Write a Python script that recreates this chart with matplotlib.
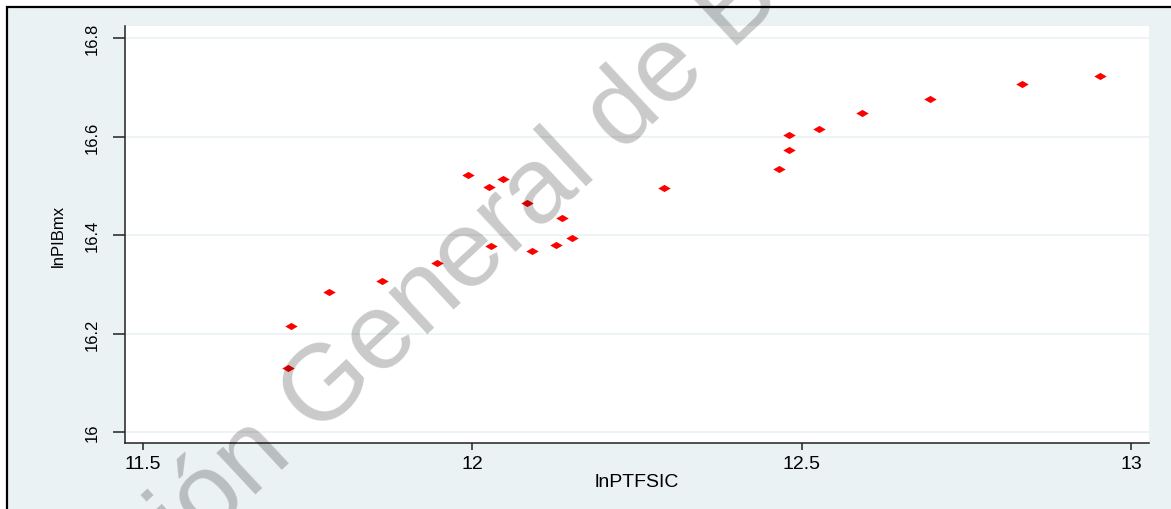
import math
import matplotlib
matplotlib.use("Agg")
import matplotlib.pyplot as plt
from matplotlib.patches import Rectangle

# log productivity (lnPTFSIC) vs log GDP (lnPIBmx)
ln_ptfsic = [11.720, 11.725, 11.782, 11.863, 11.946, 11.993, 12.026, 12.047,
             12.083, 12.029, 12.091, 12.127, 12.136, 12.151, 12.291, 12.466,
             12.481, 12.481, 12.526, 12.591, 12.695, 12.835, 12.953]
ln_pibmx = [16.130, 16.216, 16.284, 16.307, 16.343, 16.521, 16.497, 16.514,
            16.465, 16.378, 16.368, 16.380, 16.435, 16.394, 16.495, 16.535,
            16.573, 16.604, 16.615, 16.648, 16.676, 16.707, 16.723]

x_ticks = [11.5, 12, 12.5, 13]
x_tick_labels = ["11.5", "12", "12.5", "13"]
y_ticks = [16, 16.2, 16.4, 16.6, 16.8]
y_tick_labels = ["16", "16.2", "16.4", "16.6", "16.8"]

W, H = 1171, 510
BG = "#EAF2F3"
plt.rcParams["font.family"] = ["Liberation Sans", "DejaVu Sans"]

fig = plt.figure(figsize=(W / 100, H / 100), dpi=100, facecolor="white")

# graph region with a dark frame
fig.patches.append(Rectangle((7 / W, -20 / H), (W + 20) / W, (H - 8 + 20) / H,
                             transform=fig.transFigure, facecolor=BG,
                             edgecolor="black", linewidth=1.6, zorder=-5))

ax = fig.add_axes([125 / W, (H - 444) / H, (1149 - 125) / W, (444 - 27) / H])
ax.set_zorder(1)
ax.set_facecolor("white")

# wide diamond marker
diamond = [(-1, 0), (0, 0.58), (1, 0), (0, -0.58), (-1, 0)]
ax.scatter(ln_ptfsic, ln_pibmx, marker=diamond, s=80, color="#FF0000",
           linewidths=0, zorder=3)

ax.set_xlim(11.4727, 13.0273)
ax.set_ylim(15.9777, 16.8244)
ax.set_xticks(x_ticks)
ax.set_xticklabels(x_tick_labels, fontsize=14)
ax.set_yticks(y_ticks)
ax.set_yticklabels(y_tick_labels, rotation=90, va="center", fontsize=12)

ax.grid(axis="y", color=BG, linewidth=1.2, zorder=0)
ax.set_axisbelow(True)

for side in ("top", "right"):
    ax.spines[side].set_visible(False)
for side in ("left", "bottom"):
    ax.spines[side].set_color("#222222")
    ax.spines[side].set_linewidth(1.1)

ax.tick_params(axis="x", length=5, width=1.1, pad=4, color="#222222")
ax.tick_params(axis="y", length=8.5, width=1.1, pad=10, color="#222222")

ax.set_xlabel("lnPTFSIC", fontsize=14)
ax.xaxis.set_label_coords(0.5, -0.071)
ax.set_ylabel("lnPIBmx", fontsize=12)
ax.yaxis.set_label_coords(-0.058, 0.5)

# diagonal library watermark over everything; its "General" starts at a fixed spot
wm_prefix = "Dirección "
wm_text = wm_prefix + "General de Bibliotecas"
wm_angle = 43
wm_size = 78
renderer = fig.canvas.get_renderer()
probe = fig.text(0, 0, wm_prefix + "G", fontsize=wm_size)
probe_g = fig.text(0, 0, "G", fontsize=wm_size)
prefix_w = (probe.get_window_extent(renderer).width
            - probe_g.get_window_extent(renderer).width)
probe.remove()
probe_g.remove()
gx, gy = 317, H - 438
sx = gx - prefix_w * math.cos(math.radians(wm_angle))
sy = gy - prefix_w * math.sin(math.radians(wm_angle))
wm = fig.text(sx / W, sy / H, wm_text, fontsize=wm_size,
              rotation=wm_angle, rotation_mode="anchor", ha="left", va="baseline",
              color="black", alpha=0.21, transform=fig.transFigure)
wm.set_zorder(10)

fig.savefig("out.png", dpi=100, facecolor=fig.get_facecolor())
